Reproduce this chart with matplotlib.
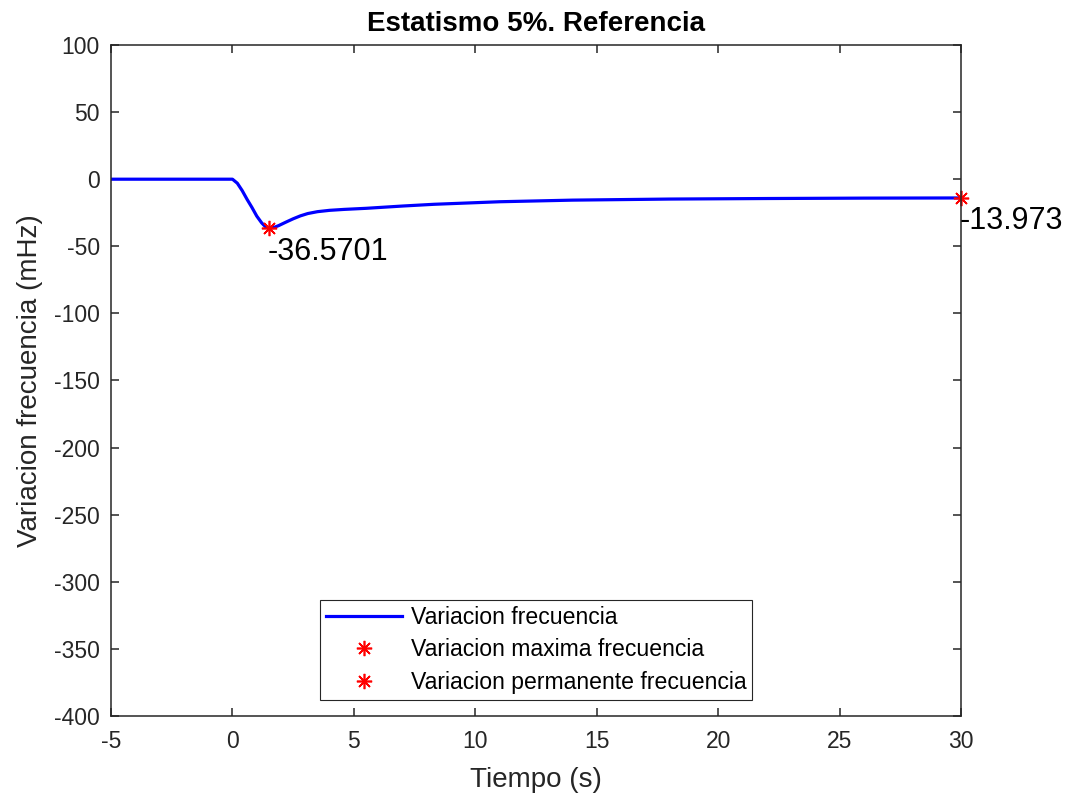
import matplotlib
matplotlib.use("Agg")
import matplotlib.pyplot as plt
import numpy as np

# Datos
tiempo = [-5, 0, 0.2, 0.4, 0.6, 0.8, 1.0, 1.2, 1.35, 1.5, 1.7, 1.9, 2.2, 2.5,
          2.8, 3.1, 3.5, 4.0, 4.6, 5.5, 7.0, 8.3, 11.0, 14.0, 18.0, 22.0, 26.0, 30.0]
variacion = [0, 0, -3, -8.5, -15, -21, -27.5, -32.5, -35.3, -36.5701, -36.0,
             -34.6, -32.0, -29.5, -27.3, -25.6, -24.2, -23.2, -22.5, -21.7, -20.0,
             -18.7, -16.8, -15.6, -14.8, -14.4, -14.1, -13.973]
t_max, v_max = 1.5, -36.5701
t_perm, v_perm = 30.0, -13.973

plt.rcParams['font.family'] = ['Liberation Sans', 'DejaVu Sans']
plt.rcParams['axes.unicode_minus'] = False

fig = plt.figure(figsize=(10.75, 7.98), dpi=100)
ax = fig.add_axes([0.1033, 0.1028, 0.7907, 0.8408])

ax.plot(tiempo, variacion, color='#0000ff', linewidth=2.3, label='Variacion frecuencia')
ax.plot([t_max], [v_max], linestyle='none', marker=(8, 2, 0), color='red',
        markersize=11, markeredgewidth=1.2, label='Variacion maxima frecuencia', clip_on=False)
ax.plot([t_perm], [v_perm], linestyle='none', marker=(8, 2, 0), color='red',
        markersize=11, markeredgewidth=1.2, label='Variacion permanente frecuencia', clip_on=False)

ax.annotate(f'{v_max}', xy=(t_max, v_max), xytext=(-1, -6), textcoords='offset points',
            ha='left', va='top', fontsize=22, color='black')
ax.annotate(f'{v_perm}', xy=(t_perm, v_perm), xytext=(-1, -6), textcoords='offset points',
            ha='left', va='top', fontsize=22, color='black', annotation_clip=False)

ax.set_xlim(-5, 30)
ax.set_ylim(-400, 100)
ax.set_xticks(np.arange(-5, 31, 5))
ax.set_yticks(np.arange(-400, 101, 50))

ax.tick_params(direction='in', top=True, right=True, length=6, width=1.1,
               colors='#262626', labelsize=16.5)
ax.tick_params(axis='y', pad=8)
ax.tick_params(axis='x', pad=10)
for s in ax.spines.values():
    s.set_color('#262626')
    s.set_linewidth(1.1)

ax.set_xlabel('Tiempo (s)', fontsize=20, color='#262626', labelpad=10)
ax.set_ylabel('Variacion frecuencia (mHz)', fontsize=20, color='#262626', labelpad=8)
ax.set_title('Estatismo 5%. Referencia', fontsize=20, fontweight='bold', pad=10)

leg = ax.legend(loc='lower center', bbox_to_anchor=(0.5, 0.0), fontsize=16.6,
                fancybox=False, framealpha=1, edgecolor='#262626',
                handlelength=3.3, handletextpad=0.4, labelspacing=0.42,
                borderpad=0.25, borderaxespad=0.7)
leg.get_frame().set_linewidth(0.8)

fig.savefig('out.png', dpi=100)
